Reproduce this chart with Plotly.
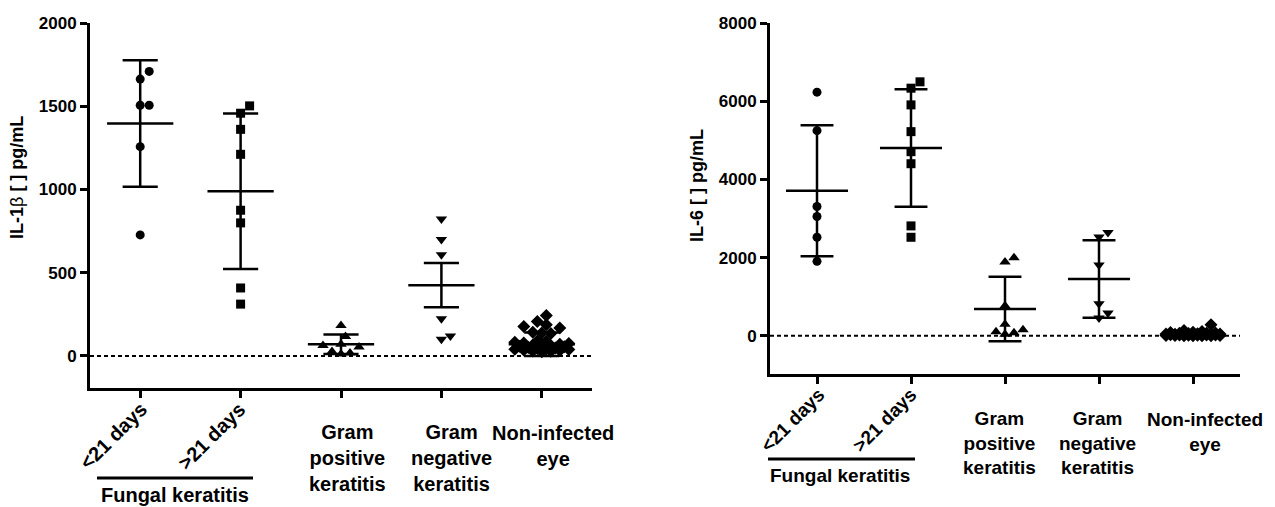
import numpy as np
import plotly.graph_objects as go

# ---------------- data ----------------
categories = ["<21 days", ">21 days", "Gram positive keratitis",
              "Gram negative keratitis", "Non-infected eye"]
cat_labels = ["<21 days", ">21 days", "Gram<br>positive<br>keratitis",
              "Gram<br>negative<br>keratitis", "Non-infected<br>eye"]
group_label = "Fungal keratitis"

il1b_lt21 = [1709, 1663, 1506, 1506, 1257, 727]
il1b_gt21 = [1502, 1458, 1361, 1211, 875, 799, 408, 311]
il1b_gpos = [183, 117, 70, 62, 54, 26, 18, 12]
il1b_gneg = [823, 699, 608, 223, 120, 100]
il1b_noninf = [243, 207, 187, 177, 167, 142, 138, 135, 90, 86, 82, 78, 74, 70,
               66, 63, 60, 58, 55, 50, 48, 45, 42, 40, 38, 35, 32, 30, 28, 25]
il1b_mean = [1396, 989, 70, 425, 70]
il1b_sd = [380, 467, 58, 133, 70]

il6_lt21 = [6231, 5248, 3308, 3051, 2521, 1906]
il6_gt21 = [6496, 6333, 5906, 5222, 4710, 4402, 2812, 2521]
il6_gpos = [2000, 1889, 769, 300, 154, 103, 77, 44]
il6_gneg = [2641, 2530, 1812, 820, 582, 454]
il6_noninf = [282, 136, 110, 95, 85, 75, 70, 65, 60, 55, 50, 45, 42, 40, 36,
              32, 30, 28, 25, 22, 20, 18, 15, 12, 10, 8, 6, 4, 2, 0]
il6_mean = [3710, 4804, 688, 1453, 50]
il6_sd = [1675, 1504, 825, 991, 60]

il1b_ticks = [0, 500, 1000, 1500, 2000]
il6_ticks = [0, 2000, 4000, 6000, 8000]

# ---------------- layout geometry ----------------
W, H = 1275, 507
FONT = "Liberation Sans, Arial, sans-serif"
symbols = ["circle", "square", "triangle-up", "triangle-down", "diamond"]
msizes = [9, 9, 10, 10, 10]

panels = [
    dict(groups=[il1b_lt21, il1b_gt21, il1b_gpos, il1b_gneg, il1b_noninf],
         mean=il1b_mean, sd=il1b_sd, ticks=il1b_ticks,
         xdom=(90, 592), ydom=(23, 388), yrange=[-193, 2000],
         title="IL-1<span style='font-weight:normal'>β</span> [ ] pg/mL",
         title_xy=(17, 178), lab_font=20,
         rot_shift=[-27, -29], rot_y=436,
         lab_shift=[0, 0, 6, 10, 11], lab_y3=458, lab_y2=445.5,
         bar=(97, 253, 478), flabel=(175, 495)),
    dict(groups=[il6_lt21, il6_gt21, il6_gpos, il6_gneg, il6_noninf],
         mean=il6_mean, sd=il6_sd, ticks=il6_ticks,
         xdom=(770, 1240), ydom=(23, 374), yrange=[-975, 8000],
         title="IL-6 [ ] pg/mL",
         title_xy=(697, 186), lab_font=19,
         rot_shift=[-25, -27], rot_y=420,
         lab_shift=[0, 0, -6, -2, 12], lab_y3=443, lab_y2=431.5,
         bar=(768, 915, 459), flabel=(840, 475)),
]


def swarm(values, px_per_y, px_per_x, d, maxoff):
    vals = np.asarray(values, dtype=float)
    order = np.argsort(vals, kind="stable")
    step = d / 2.0
    cands = [0.0]
    k = 1
    while k * step <= maxoff + 1e-9:
        cands += [k * step, -k * step]
        k += 1
    placed = []
    offs = np.zeros(len(vals))
    for i in order:
        y = vals[i] * px_per_y
        chosen, best_c, best_d = None, 0.0, -1.0
        for c in cands:
            md = min([np.hypot(c - px, y - py) for px, py in placed], default=1e9)
            if md >= d:
                chosen = c
                break
            if md > best_d:
                best_d, best_c = md, c
        if chosen is None:
            chosen = best_c
        placed.append((chosen, y))
        offs[i] = chosen / px_per_x
    return offs


fig = go.Figure()
annotations = []
shapes = []

for pi, p in enumerate(panels):
    sfx = "" if pi == 0 else str(pi + 1)
    xa, ya = "x" + sfx, "y" + sfx
    x0, x1 = p["xdom"]
    y0, y1 = p["ydom"]
    px_per_x = (x1 - x0) / 5.0
    px_per_y = (y1 - y0) / (p["yrange"][1] - p["yrange"][0])

    # zero dotted line
    fig.add_trace(go.Scatter(x=[0.5, 5.5], y=[0, 0], mode="lines",
                             line=dict(color="black", width=2, dash="4px,3px"),
                             xaxis=xa, yaxis=ya, showlegend=False, hoverinfo="skip"))

    for gi, vals in enumerate(p["groups"]):
        offs = swarm(vals, px_per_y, px_per_x, 9.0, 30.0)
        xs = [gi + 1 + o for o in offs]
        fig.add_trace(go.Scatter(x=xs, y=vals, mode="markers",
                                 marker=dict(symbol=symbols[gi], size=msizes[gi],
                                             color="black", line=dict(width=0)),
                                 xaxis=xa, yaxis=ya, showlegend=False,
                                 name=categories[gi], cliponaxis=False))

    # mean and SD lines
    lx, ly = [], []
    for gi, (m, s) in enumerate(zip(p["mean"], p["sd"])):
        c = gi + 1
        lx += [c - 0.33, c + 0.33, None, c, c, None,
               c - 0.175, c + 0.175, None, c - 0.175, c + 0.175, None]
        ly += [m, m, None, m - s, m + s, None,
               m + s, m + s, None, m - s, m - s, None]
    fig.add_trace(go.Scatter(x=lx, y=ly, mode="lines",
                             line=dict(color="black", width=2.5),
                             xaxis=xa, yaxis=ya, showlegend=False, hoverinfo="skip"))

    fig.update_layout(**{
        "xaxis" + sfx: dict(domain=[x0 / W, x1 / W], range=[0.5, 5.5],
                            showline=True, linecolor="black", linewidth=3,
                            ticks="outside", ticklen=7, tickwidth=3, tickcolor="black",
                            tickvals=[1, 2, 3, 4, 5], showticklabels=False,
                            showgrid=False, zeroline=False, anchor=ya, automargin=False),
        "yaxis" + sfx: dict(domain=[1 - y1 / H, 1 - y0 / H], range=p["yrange"],
                            showline=True, linecolor="black", linewidth=3,
                            ticks="outside", ticklen=7, tickwidth=3, tickcolor="black",
                            tickvals=p["ticks"], ticktext=[str(t) for t in p["ticks"]],
                            tickfont=dict(family=FONT, size=17, color="black", weight="bold"),
                            showgrid=False, zeroline=False, anchor=xa, automargin=False),
    })

    # y title
    annotations.append(dict(text=p["title"], textangle=-90, xref="paper", yref="paper",
                            x=p["title_xy"][0] / W, y=1 - p["title_xy"][1] / H,
                            xanchor="center", yanchor="middle", showarrow=False,
                            font=dict(family=FONT, size=18, color="black", weight="bold")))
    lf = dict(family=FONT, size=p["lab_font"], color="black", weight="bold")
    # rotated labels
    for gi in range(2):
        annotations.append(dict(text=cat_labels[gi], textangle=-45, xref=xa, yref="paper",
                                x=gi + 1, xshift=p["rot_shift"][gi], y=1 - p["rot_y"] / H,
                                xanchor="center", yanchor="middle", showarrow=False, font=lf))
    for gi in range(2, 5):
        ypx = p["lab_y3"] if gi < 4 else p["lab_y2"]
        annotations.append(dict(text=cat_labels[gi], xref=xa, yref="paper",
                                x=gi + 1, xshift=p["lab_shift"][gi], y=1 - ypx / H,
                                xanchor="center", yanchor="middle", showarrow=False,
                                align="center", font=lf))
    # fungal keratitis bar and label
    bx0, bx1, by = p["bar"]
    shapes.append(dict(type="line", xref="paper", yref="paper",
                       x0=bx0 / W, x1=bx1 / W, y0=1 - by / H, y1=1 - by / H,
                       line=dict(color="black", width=3)))
    annotations.append(dict(text=group_label, xref="paper", yref="paper",
                            x=p["flabel"][0] / W, y=1 - p["flabel"][1] / H,
                            xanchor="center", yanchor="middle", showarrow=False, font=lf))

fig.update_layout(width=W, height=H, margin=dict(l=0, r=0, t=0, b=0, autoexpand=False),
                  paper_bgcolor="white", plot_bgcolor="white",
                  annotations=annotations, shapes=shapes, showlegend=False,
                  font=dict(family=FONT, color="black"))

fig.write_html("out.html", config={"displayModeBar": False},
               post_script="document.body.style.margin='0';document.body.style.overflow='hidden';")
